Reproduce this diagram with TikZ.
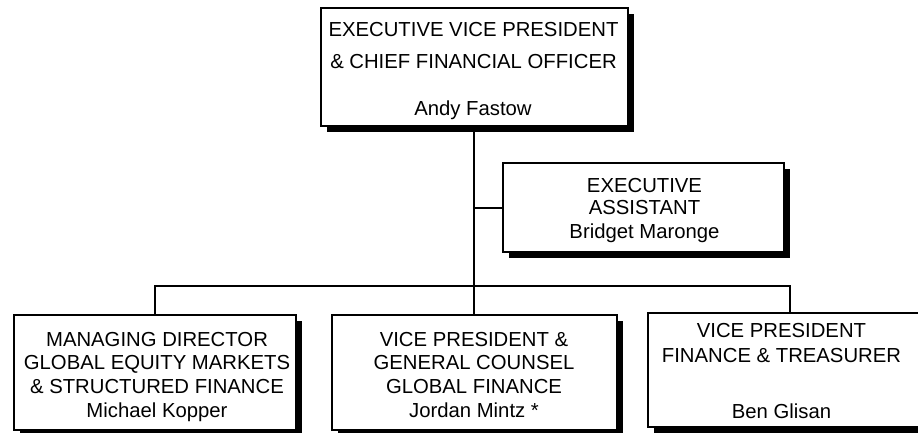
\documentclass[tikz,border=0pt]{standalone}
\usepackage{fontspec}
\setmainfont{Liberation Sans}
\usetikzlibrary{shadows}
\begin{document}
\begin{tikzpicture}[x=1pt,y=-1pt,
  box/.style={draw=black, line width=2pt, fill=white, inner sep=0pt,
    drop shadow={shadow xshift=6pt, shadow yshift=-6pt, fill=black, opacity=1}},
  txt/.style={anchor=base, inner sep=0pt, font=\fontsize{20.3}{24}\selectfont},
  conn/.style={draw=black, line width=2pt}]
\useasboundingbox (0,0) rectangle (918,432);
% boxes
\node[box, minimum width=307pt, minimum height=118pt] (ceo) at (474,67) {};
\node[box, minimum width=281pt, minimum height=89pt] (asst) at (643.5,207.5) {};
\node[box, minimum width=282pt, minimum height=115pt] (md) at (155,372.5) {};
\node[box, minimum width=285pt, minimum height=115pt] (vp) at (474,372.5) {};
\node[box, minimum width=284pt, minimum height=114pt] (vpt) at (790,370) {};
% connectors
\draw[conn] (ceo.south) -- (vp.north);
\draw[conn] (ceo.south |- asst.west) -- (asst.west);
\draw[conn] (md.north) -- ++(0,-28) -| (vpt.north);
% texts
\node[txt] (t1) at (473.5,36) {EXECUTIVE VICE PRESIDENT};
\node[txt] (t2) at (473.5,68) {\& CHIEF FINANCIAL OFFICER};
\node[txt] (t3) at (473,115) {Andy Fastow};
\node[txt] (a1) at (644.5,192) {EXECUTIVE};
\node[txt] (a2) at (644.5,214.5) {ASSISTANT};
\node[txt] (a3) at (644.5,238) {Bridget Maronge};
\node[txt] (m1) at (157,346) {MANAGING DIRECTOR};
\node[txt] (m2) at (157,369.5) {GLOBAL EQUITY MARKETS};
\node[txt] (m3) at (157,393.5) {\& STRUCTURED FINANCE};
\node[txt] (m4) at (157,417) {Michael Kopper};
\node[txt] (v1) at (474,346) {VICE PRESIDENT \&};
\node[txt] (v2) at (474,369.5) {GENERAL COUNSEL};
\node[txt] (v3) at (474,393.5) {GLOBAL FINANCE};
\node[txt] (v4) at (474,417) {Jordan Mintz *};
\node[txt] (r1) at (781.5,337) {VICE PRESIDENT};
\node[txt] (r2) at (781.5,362) {FINANCE \& TREASURER};
\node[txt] (r3) at (781.5,418) {Ben Glisan};
\end{tikzpicture}
\end{document}
